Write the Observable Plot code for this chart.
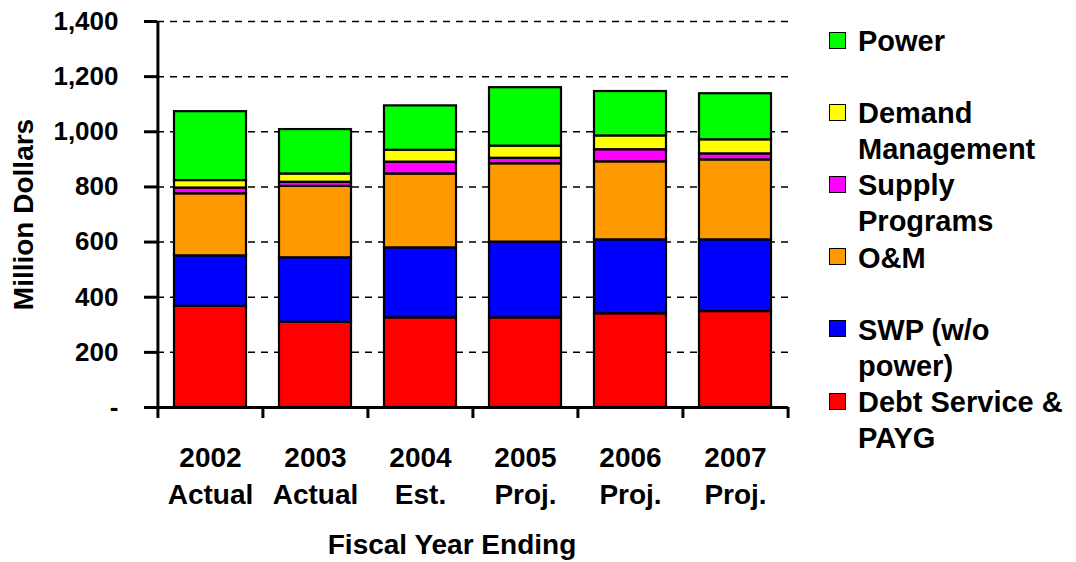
<!DOCTYPE html>
<html>
<head>
<meta charset="utf-8">
<script src="https://cdn.jsdelivr.net/npm/d3@7"></script>
<script src="https://cdn.jsdelivr.net/npm/@observablehq/plot@0.6"></script>
<style>
  body { margin: 0; background: #fff; }
  #chart { position: relative; width: 1076px; height: 562px; font-family: "Liberation Sans", Arial, sans-serif; font-weight: bold; color: #000; }
  #chart svg { position: absolute; left: 0; top: 0; }
  #legend { position: absolute; left: 829px; top: 23px; }
  .item { display: flex; height: 72.2px; }
  .sw { width: 15px; height: 15px; border: 1.5px solid #000; margin-top: 8.7px; flex: none; }
  .lbl { margin-left: 12px; font-size: 29px; line-height: 36.1px; white-space: pre; }
</style>
</head>
<body>
<div id="chart"><div id="legend"></div></div>
<script>
// Fiscal years and their status
const years = ["2002", "2003", "2004", "2005", "2006", "2007"];
const statuses = ["Actual", "Actual", "Est.", "Proj.", "Proj.", "Proj."];

// Cost components, stacked bottom to top (million dollars)
const series = ["Debt Service & PAYG", "SWP (w/o power)", "O&M", "Supply Programs", "Demand Management", "Power"];
const debtService = [367, 309, 325, 325, 340, 348];
const swp = [183, 234, 254, 275, 268, 260];
const om = [225, 259, 268, 284, 283, 290];
const supply = [21, 15, 43, 20, 44, 22];
const demand = [27, 30, 43, 44, 50, 51];
const power = [250, 161, 161, 212, 161, 167];

const colors = ["#ff0000", "#0000ff", "#ff9900", "#ff00ff", "#ffff00", "#00ff00"];
const legendLabels = ["Debt Service &\nPAYG", "SWP (w/o\npower)", "O&M", "Supply\nPrograms", "Demand\nManagement", "Power"];
const yTicks = [0, 200, 400, 600, 800, 1000, 1200, 1400];

const values = [debtService, swp, om, supply, demand, power];
const rows = series.flatMap((s, i) => years.map((yr, j) => ({year: yr, series: s, value: values[i][j]})));

const W = 1076, H = 562, mL = 157, mR = 288, mT = 21, mB = 155;
const step = (W - mL - mR) / years.length;
const font = "'Liberation Sans', Arial, sans-serif";

const chart = Plot.plot({
  width: W,
  height: H,
  marginLeft: mL,
  marginRight: mR,
  marginTop: mT,
  marginBottom: mB,
  style: {fontFamily: font, fontWeight: "bold", color: "#000", background: "transparent", overflow: "visible"},
  x: {domain: years, paddingInner: 0.31, paddingOuter: 0.155, axis: null},
  y: {domain: [0, 1400], axis: null},
  color: {domain: series, range: colors},
  marks: [
    // dashed gridlines
    Plot.ruleY(yTicks.filter((d) => d > 0), {stroke: "#000", strokeWidth: 1.5, strokeDasharray: "7,6"}),
    // stacked bars
    Plot.barY(rows, {x: "year", y: "value", fill: "series", stroke: "#000", strokeWidth: 2.2}),
    // x axis line
    Plot.ruleY([0], {stroke: "#000", strokeWidth: 3}),
    // y axis line
    Plot.ruleX([years[0]], {dx: -step / 2, y1: 1400, y2: 0, insetBottom: -11, stroke: "#000", strokeWidth: 3}),
    // category boundary ticks
    Plot.ruleX(years.slice(1), {dx: -step / 2, y1: 0, y2: 0, insetBottom: -11, stroke: "#000", strokeWidth: 3}),
    Plot.ruleX([years[years.length - 1]], {dx: step / 2, y1: 0, y2: 0, insetBottom: -11, stroke: "#000", strokeWidth: 3}),
    // y axis ticks and labels
    Plot.axisY({
      ticks: yTicks,
      tickFormat: (d) => (d === 0 ? "-" : d3.format(",")(d)),
      tickSize: 13,
      tickPadding: 26,
      strokeWidth: 3,
      fontSize: 26,
      fontWeight: "bold",
      label: null
    }),
    // two-line category labels
    Plot.text(years, {x: (d) => d, y: () => 0, dy: 51, fontSize: 28, fontWeight: "bold", fill: "#000"}),
    Plot.text(statuses, {x: (d, i) => years[i], y: () => 0, dy: 88, fontSize: 28, fontWeight: "bold", fill: "#000"}),
    // axis titles
    Plot.text(["Fiscal Year Ending"], {frameAnchor: "bottom", dx: -21, dy: 146, fontSize: 28, fontWeight: "bold", fill: "#000"}),
    Plot.text(["Million Dollars"], {frameAnchor: "left", textAnchor: "middle", rotate: -90, dx: -133, fontSize: 28, fontWeight: "bold", fill: "#000"})
  ]
});

const container = document.getElementById("chart");
container.insertBefore(chart, container.firstChild);

// legend, top item first
const legend = d3.select("#legend");
series.map((s, i) => ({label: legendLabels[i], color: colors[i]})).reverse().forEach((d) => {
  const item = legend.append("div").attr("class", "item");
  item.append("div").attr("class", "sw").style("background", d.color);
  item.append("div").attr("class", "lbl").text(d.label);
});
</script>
</body>
</html>
